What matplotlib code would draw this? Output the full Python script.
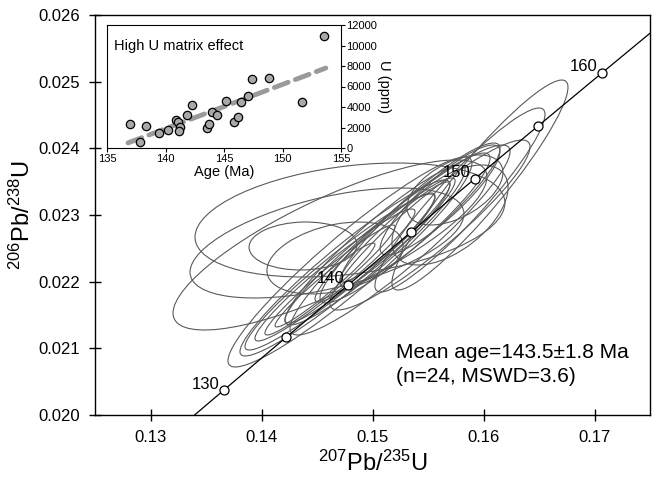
import numpy as np
import matplotlib
matplotlib.use("Agg")
import matplotlib.pyplot as plt
from matplotlib.patches import Ellipse

plt.rcParams["font.family"] = ["Liberation Sans", "DejaVu Sans"]
plt.rcParams["mathtext.fontset"] = "custom"
plt.rcParams["mathtext.rm"] = "Liberation Sans"

# decay constants (1/Ma) for the concordia curve
lam238 = 1.55125e-4
lam235 = 9.8485e-4
concordia_ages = [125, 130, 135, 140, 145, 150, 155, 160, 165, 170]
marker_ages = [130, 135, 140, 145, 150, 155, 160]
label_ages = [130, 140, 150, 160]

# error ellipses: centre, half extent in x and y, correlation
ell_x = [0.14797, 0.14590, 0.14374, 0.14662, 0.14617,
         0.14797, 0.14752, 0.14707, 0.14662, 0.14617, 0.14572,
         0.14887, 0.15023, 0.15113, 0.15203, 0.15293, 0.15428,
         0.15608, 0.15698, 0.15743, 0.15968, 0.15788, 0.15518, 0.15248]
ell_y = [0.022925, 0.02258, 0.022535, 0.022355, 0.02255,
         0.022295, 0.022205, 0.022145, 0.0221, 0.022025, 0.02195,
         0.022355, 0.02255, 0.022625, 0.022745, 0.022805, 0.0230,
         0.023225, 0.0230, 0.023375, 0.02345, 0.023225, 0.02285, 0.022625]
ell_sx = [0.01396, 0.01234, 0.00486, 0.00613, 0.01414,
          0.01099, 0.00946, 0.00856, 0.00721, 0.00586, 0.0045,
          0.00676, 0.00811, 0.00631, 0.00495, 0.00766, 0.00721,
          0.0054, 0.00523, 0.00432, 0.00793, 0.00766, 0.00901, 0.00991]
ell_sy = [0.000855, 0.000825, 0.00036, 0.00054, 0.001275,
          0.001575, 0.00132, 0.00117, 0.00099, 0.000825, 0.00063,
          0.000975, 0.0012, 0.00093, 0.00075, 0.001125, 0.00108,
          0.000825, 0.00075, 0.000525, 0.001575, 0.00138, 0.001275, 0.001425]
ell_rho = [0.30, 0.53, 0.05, 0.35, 0.80,
           0.94, 0.95, 0.955, 0.96, 0.965, 0.965,
           0.95, 0.94, 0.95, 0.95, 0.93, 0.92,
           0.88, 0.55, 0.50, 0.93, 0.93, 0.92, 0.93]

# inset: U content vs age
age = [136.94, 137.8, 138.37, 139.46, 140.23, 140.86, 141.09, 141.23,
       141.17, 141.8, 142.29, 143.51, 143.71, 144.0, 144.37, 145.14,
       145.86, 146.17, 146.43, 147.03, 147.43, 148.86, 151.63, 153.51]
u_ppm = [2335, 584, 2108, 1460, 1719, 2757, 2497, 2043,
         1654, 3178, 4216, 1946, 2335, 3470, 3210, 4540,
         2530, 3016, 4475, 5091, 6745, 6810, 4475, 10961]
trend_age = [136.8, 153.7]
trend_u = [500, 7800]


def ratios(t):
    t = np.asarray(t, dtype=float)
    return np.exp(lam235*t) - 1, np.exp(lam238*t) - 1


def error_ellipse(x, y, sx, sy, rho):
    cov = np.array([[sx**2, rho*sx*sy], [rho*sx*sy, sy**2]])
    vals, vecs = np.linalg.eigh(cov)
    angle = np.degrees(np.arctan2(vecs[1, 1], vecs[0, 1]))
    return Ellipse((x, y), 2*np.sqrt(vals[1]), 2*np.sqrt(vals[0]), angle=angle,
                   fill=False, edgecolor="#5a5a5a", linewidth=0.8)


fig = plt.figure(figsize=(6.61, 4.78), dpi=100)
ax = fig.add_axes([95/661, 63/478, 555/661, 400/478])

for i in range(len(ell_x)):
    ax.add_patch(error_ellipse(ell_x[i], ell_y[i], ell_sx[i], ell_sy[i], ell_rho[i]))

cx, cy = ratios(np.linspace(min(concordia_ages), max(concordia_ages), 200))
ax.plot(cx, cy, color="black", linewidth=0.9, zorder=3)
mx, my = ratios(marker_ages)
ax.plot(mx, my, "o", markersize=6.5, markerfacecolor="white",
        markeredgecolor="black", markeredgewidth=0.9, zorder=4)
for t in label_ages:
    lx, ly = ratios(t)
    ax.annotate(str(t), (lx, ly), xytext=(-3, -1), textcoords="offset points",
                ha="right", va="bottom", fontsize=12, zorder=5)

ax.text(0.15215, 0.020855, u"Mean age=143.5\u00b11.8 Ma", fontsize=15)
ax.text(0.15215, 0.0205, "(n=24, MSWD=3.6)", fontsize=15)

ax.set_xlim(0.125, 0.175)
ax.set_ylim(0.020, 0.026)
ax.set_xticks([0.13, 0.14, 0.15, 0.16, 0.17])
ax.set_yticks([0.020, 0.021, 0.022, 0.023, 0.024, 0.025, 0.026])
ax.set_xticklabels(["%.2f" % v for v in ax.get_xticks()])
ax.set_yticklabels(["%.3f" % v for v in ax.get_yticks()])
ax.tick_params(direction="inout", length=8, width=1, labelsize=12, pad=6.5)
ax.set_xlabel(r"$\mathregular{^{207}Pb/^{235}U}$", fontsize=17, labelpad=4.5)
ax.set_ylabel(r"$\mathregular{^{206}Pb/^{238}U}$", fontsize=17, labelpad=3)
for s in ax.spines.values():
    s.set_linewidth(1)

# inset
ins = fig.add_axes([107/661, 330/478, 234/661, 123/478])
ins.plot(trend_age, trend_u, color="#9a9a9a", linewidth=3.5, dashes=(3, 1.6),
         solid_capstyle="round", dash_capstyle="round", zorder=1)
ins.plot(age, u_ppm, "o", markersize=6, markerfacecolor="#a8a8a8",
         markeredgecolor="black", markeredgewidth=0.9, zorder=2)
ins.set_xlim(135, 155)
ins.set_ylim(0, 12000)
ins.set_xticks([135, 140, 145, 150, 155])
ins.set_yticks([0, 2000, 4000, 6000, 8000, 10000, 12000])
ins.yaxis.tick_right()
ins.yaxis.set_label_position("right")
ins.tick_params(direction="out", length=3, width=0.8, labelsize=8, pad=1)
ins.set_xlabel("Age (Ma)", fontsize=10.5, labelpad=1)
ins.set_ylabel("U (ppm)", fontsize=10.5, rotation=270, labelpad=10)
ins.text(0.03, 0.80, "High U matrix effect", transform=ins.transAxes, fontsize=10.5)

fig.savefig("out.png", dpi=100)
